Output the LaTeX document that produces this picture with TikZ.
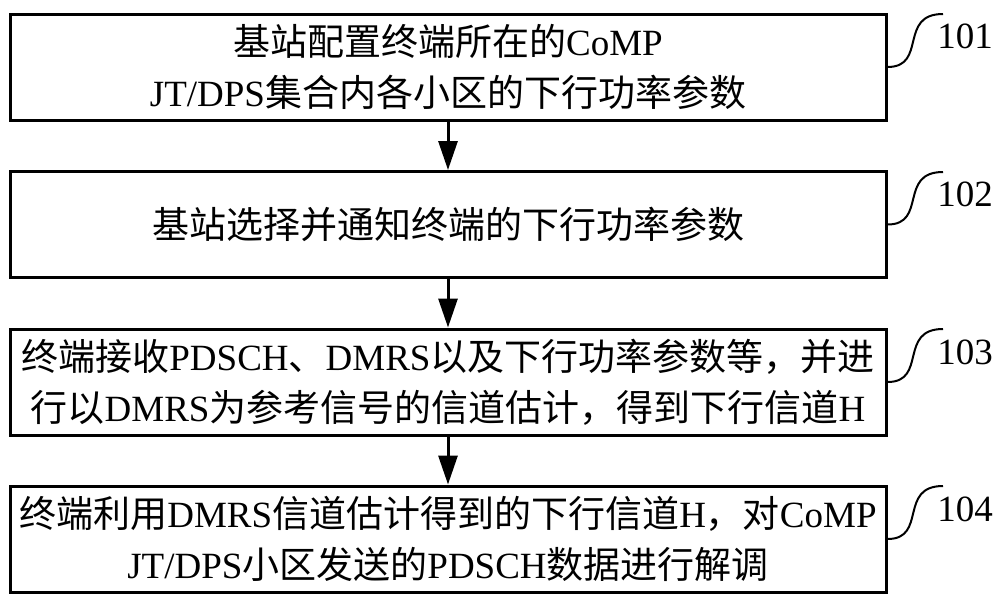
\documentclass[tikz,border=0pt]{standalone}
\usepackage{fontspec}
\setmainfont{Liberation Serif}
\newfontfamily\cjk{Noto Sans CJK SC}
\usetikzlibrary{arrows.meta}
\newcommand{\zh}[1]{{\cjk #1}}
\tikzset{
    stepbox/.style={draw, line width=3pt, minimum width=876pt, minimum height=106pt,
        inner sep=0pt, align=center, font=\fontsize{37}{51}\selectfont},
    flow/.style={-{Triangle[width=19pt,length=29pt]}, line width=3pt},
    tag/.style={inner sep=0pt, font=\fontsize{37}{44}\selectfont},
    hook/.style={line width=2pt}
}
\begin{document}
\begin{tikzpicture}[x=1pt,y=-1pt]
        \useasboundingbox (0,0) rectangle (1000,603);
        \begin{scope}
            % steps
            \node[stepbox] (b1) at (448,67) {\zh{基站配置终端所在的}CoMP\\JT/DPS\zh{集合内各小区的下行功率参数}};
            \node[stepbox] (b2) at (448,224.5) {\zh{基站选择并通知终端的下行功率参数}};
            \node[stepbox] (b3) at (448,382) {\zh{终端接收}PDSCH\zh{、}DMRS\zh{以及下行功率参数等，并进}\\\zh{行以}DMRS\zh{为参考信号的信道估计，得到下行信道}H};
            \node[stepbox] (b4) at (448,539) {\zh{终端利用}DMRS\zh{信道估计得到的下行信道}H\zh{，对}CoMP\\JT/DPS\zh{小区发送的}PDSCH\zh{数据进行解调}};

            \draw[flow] (b1) -- (b2);
            \draw[flow] (b2) -- (b3);
            \draw[flow] (b3) -- (b4);

            % step numbers
            \node[tag] (l1) at (965,36) {101};
            \node[tag] (l2) at (965,194) {102};
            \node[tag] (l3) at (965,352) {103};
            \node[tag] (l4) at (965,509) {104};

            \coordinate (e1) at (943,14);
            \coordinate (e2) at (943,172);
            \coordinate (e3) at (943,329);
            \coordinate (e4) at (943,486);

            \draw[hook] (b1.east) .. controls +(40,0) and +(-45,0) .. (e1);
            \draw[hook] (b2.east) .. controls +(40,0) and +(-45,0) .. (e2);
            \draw[hook] (b3.east) .. controls +(40,0) and +(-45,0) .. (e3);
            \draw[hook] (b4.east) .. controls +(40,0) and +(-45,0) .. (e4);
        \end{scope}
    \end{tikzpicture}
\end{document}
